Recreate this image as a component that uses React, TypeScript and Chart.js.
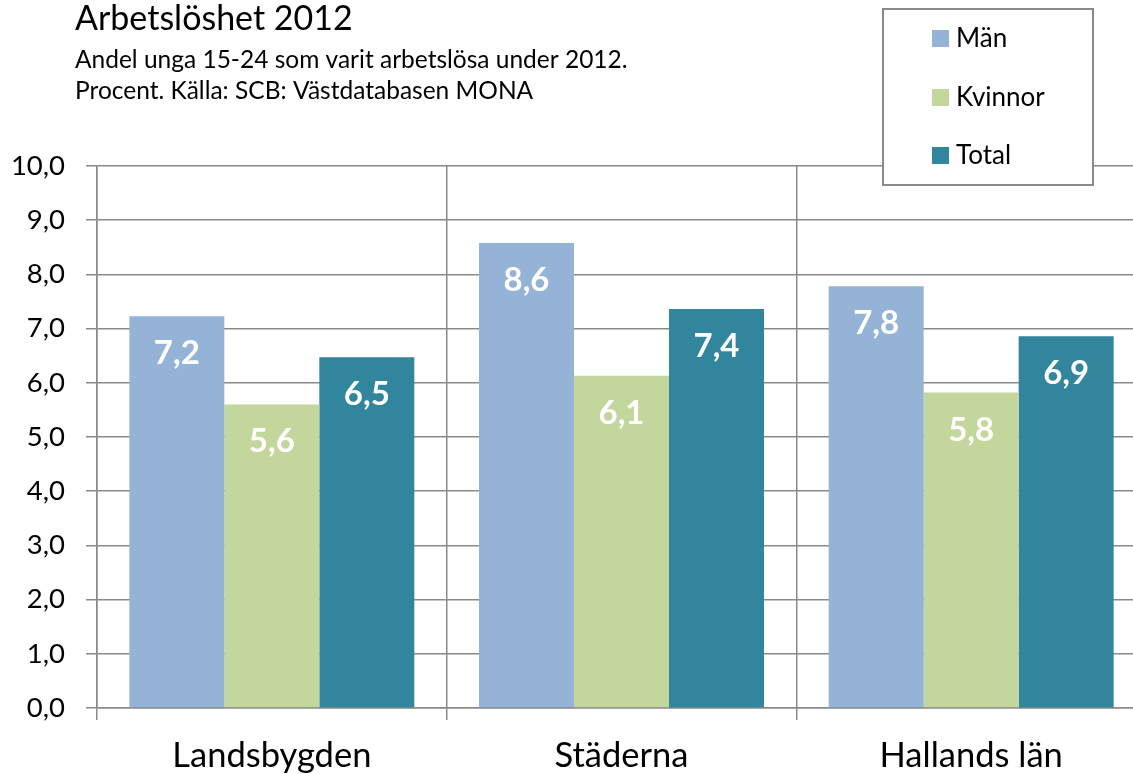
import React, { useEffect, useRef } from "react";
import { Chart, registerables } from "chart.js";

Chart.register(...registerables);

const categories = ["Landsbygden", "Städerna", "Hallands län"];
const seriesNames = ["Män", "Kvinnor", "Total"];
const manValues = [7.23, 8.58, 7.78];
const kvinnorValues = [5.6, 6.13, 5.82];
const totalValues = [6.47, 7.36, 6.86];
const seriesColors = ["#95b3d7", "#c3d69b", "#31859c"];
const titleText = "Arbetslöshet 2012";
const subtitleLines = [
  "Andel unga 15-24 som varit arbetslösa under 2012.",
  "Procent. Källa: SCB: Västdatabasen MONA",
];

const FONT = "Lato, 'Open Sans', sans-serif";
const GRID = "#8a8a8a";

const fmt = (v: number) => (Math.round(v * 10) / 10).toFixed(1).replace(".", ",");

const overlayPlugin = {
  id: "overlay",
  afterDatasetsDraw(chart: any) {
    const ctx = chart.ctx;
    ctx.save();
    ctx.fillStyle = "#ffffff";
    ctx.font = `bold 33px ${FONT}`;
    ctx.textAlign = "center";
    ctx.textBaseline = "alphabetic";
    chart.data.datasets.forEach((ds: any, di: number) => {
      const meta = chart.getDatasetMeta(di);
      meta.data.forEach((bar: any, i: number) => {
        ctx.fillText(fmt(ds.data[i]), bar.x, bar.y + 48);
      });
    });
    ctx.restore();
  },
  afterDraw(chart: any) {
    const ctx = chart.ctx;
    ctx.save();
    // title
    ctx.fillStyle = "#000";
    ctx.textAlign = "left";
    ctx.textBaseline = "alphabetic";
    ctx.font = `34px ${FONT}`;
    ctx.fillText(titleText, 75, 30);
    ctx.font = `24.5px ${FONT}`;
    ctx.fillText(subtitleLines[0], 75, 68);
    ctx.fillText(subtitleLines[1], 75, 99);
    // legend box
    ctx.fillStyle = "#ffffff";
    ctx.fillRect(883, 9, 210, 176);
    ctx.strokeStyle = GRID;
    ctx.lineWidth = 2;
    ctx.strokeRect(883, 9, 210, 176);
    const baselines = [47, 106, 164];
    chart.data.datasets.forEach((ds: any, i: number) => {
      ctx.fillStyle = ds.backgroundColor;
      ctx.fillRect(932, baselines[i] - 17, 17, 17);
      ctx.fillStyle = "#000";
      ctx.font = `26px ${FONT}`;
      ctx.fillText(ds.label, 956, baselines[i]);
    });
    ctx.restore();
  },
};

export default function App() {
  const ref = useRef<HTMLCanvasElement | null>(null);
  useEffect(() => {
    if (!ref.current) return;
    const values = [manValues, kvinnorValues, totalValues];
    const chart = new Chart(ref.current, {
      type: "bar",
      data: {
        labels: categories,
        datasets: seriesNames.map((name, i) => ({
          label: name,
          data: values[i],
          backgroundColor: seriesColors[i],
          borderWidth: 0,
          categoryPercentage: 0.815,
          barPercentage: 1.0,
        })),
      },
      options: {
        responsive: false,
        animation: false,
        devicePixelRatio: 1,
        layout: { padding: { top: 166, left: 0, right: 4, bottom: 0 } },
        plugins: {
          legend: { display: false },
          title: { display: false },
          tooltip: { enabled: false },
        },
        scales: {
          x: {
            type: "category",
            grid: {
              offset: true,
              color: GRID,
              lineWidth: 1.5,
              drawTicks: true,
              tickLength: 12,
            },
            border: { color: GRID, width: 1.5 },
            ticks: {
              color: "#000",
              font: { family: FONT, size: 34.5 },
              padding: 15,
              maxRotation: 0,
            },
            afterFit: (s: any) => {
              s.height = 66;
            },
          },
          y: {
            min: 0,
            max: 10,
            ticks: {
              stepSize: 1,
              color: "#000",
              font: { family: FONT, size: 27.5 },
              padding: 21,
              callback: (v: any) => Number(v).toFixed(1).replace(".", ","),
            },
            grid: { color: GRID, lineWidth: 1.5, tickLength: 11 },
            border: { color: GRID, width: 1.5 },
            afterFit: (s: any) => {
              s.width = 97;
            },
          },
        },
      },
      plugins: [overlayPlugin],
    });
    return () => chart.destroy();
  }, []);
  return (
    <div
      style={{
        position: "fixed",
        left: 0,
        top: 0,
        width: 1133,
        height: 774,
        overflow: "hidden",
        background: "#fff",
      }}
    >
      <canvas ref={ref} width={1150} height={774} style={{ display: "block" }} />
    </div>
  );
}
